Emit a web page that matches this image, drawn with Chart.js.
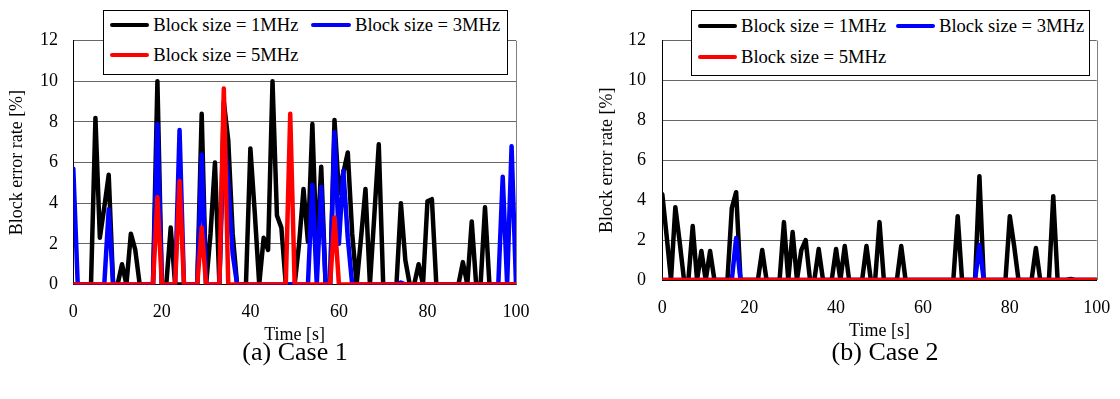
<!DOCTYPE html>
<html><head><meta charset="utf-8">
<script src="https://cdn.jsdelivr.net/npm/chart.js@4.4.1/dist/chart.umd.min.js"></script>
<style>
html,body{margin:0;padding:0;background:#fff;}
#wrap{position:relative;width:1120px;height:399px;overflow:hidden;background:#fff;font-family:'Liberation Serif','Times New Roman',serif;}
.cv{position:absolute;top:0;width:560px;height:399px;}
.legend{position:absolute;background:#fff;border:1px solid #000;box-sizing:border-box;}
.legend .ln{position:absolute;height:4px;border-radius:2px;}
.legend .tx{position:absolute;font-family:'Liberation Serif','Times New Roman',serif;font-size:18.6px;line-height:20px;color:#000;white-space:nowrap;}
.cap{position:absolute;font-family:'Liberation Serif','Times New Roman',serif;font-size:26px;line-height:30px;color:#000;text-align:center;width:300px;}
</style></head><body>
<div id="wrap">
  <div class="cv" style="left:0px"><canvas id="c1" width="560" height="399"></canvas></div>
  <div class="cv" style="left:560px"><canvas id="c2" width="560" height="399"></canvas></div>
  <div id="leg1" class="legend" style="left:102.7px;top:10px;width:405.6px;height:65px"></div>
  <div id="leg2" class="legend" style="left:691.4px;top:10px;width:399px;height:66px"></div>
  <div id="cap1" class="cap" style="left:145px;top:337px"></div>
  <div id="cap2" class="cap" style="left:735px;top:337px"></div>
</div>
<script>
// ---- data ----
const times = [0,1,2,3,4,5,6,7,8,9,10,11,12,13,14,15,16,17,18,19,20,21,22,23,24,25,26,27,28,29,30,31,32,33,34,35,36,37,38,39,40,41,42,43,44,45,46,47,48,49,50,51,52,53,54,55,56,57,58,59,60,61,62,63,64,65,66,67,68,69,70,71,72,73,74,75,76,77,78,79,80,81,82,83,84,85,86,87,88,89,90,91,92,93,94,95,96,97,98,99,100];
const xTickValues = [0,20,40,60,80,100];
const yTickValues = [0,2,4,6,8,10,12];
const seriesNames = ['Block size = 1MHz','Block size = 3MHz','Block size = 5MHz'];
const seriesColors = ['#000000','#0000ff','#ff0000'];
const xTitle = 'Time [s]';
const yTitle = 'Block error rate [%]';
const captions = ['(a) Case 1','(b) Case 2'];

const case1_1MHz = [
 0,0,0,0,0,8.2,2.3,3.8,5.4,0,
 0,1.0,0,2.5,1.7,0,0,0,0,10.0,
 0,0,2.8,0,0,0,0,0,0,8.4,
 0,2.5,6.0,0,9.0,7.1,2.5,0,0,0,
 6.7,3.5,0,2.3,1.7,10.0,3.4,2.8,0,0,
 0,2.0,4.7,2.1,7.9,1.5,5.8,0,0,8.1,
 4.5,5.5,6.5,2.5,0,2.3,4.7,0,3.4,6.9,
 0,0,0,0,4.0,1.2,0,0,1.0,0,
 4.1,4.2,0,0,0,0,0,0,1.1,0,
 3.1,0,0,3.8,0,0,0,0,0,0,
 0];
const case1_3MHz = [
 5.7,0,0,0,0,0,0,0,3.7,0,
 0,0,0,0,0,0,0,0,0,7.9,
 0,0,0,0,7.6,0,0,0,0,6.4,
 0,0,0,0,7.5,5.0,1.5,0,0,0,
 0,0,0,0,0,0,0,0,0,0,
 0,0,0,0,4.9,0,4.8,0,0,7.5,
 2.0,5.6,2.3,0,0,0,0,0,0,0,
 0,0,0,0,0.1,0,0,0,0,0,
 0,0,0,0,0,0,0,0,0,0,
 0,0,0,0,0,0,0,5.3,0,6.8,
 0];
const case1_5MHz = [
 0,0,0,0,0,0,0,0,0,0,
 0,0,0,0,0,0,0,0,0,4.3,
 0,0,0,0,5.1,0,0,0,0,2.8,
 0,0,0,0,9.65,0,0,0,0,0,
 0,0,0,0,0,0,0,0,0,8.4,
 0,0,0,0,0,0,0,0,0,3.3,
 0,0,0,0,0,0,0,0,0,0,
 0,0,0,0,0,0,0,0,0,0,
 0,0,0,0,0,0,0,0,0,0,
 0,0,0,0,0,0,0,0,0,0,
 0];
const case2_1MHz = [
 4.3,2.2,0,3.65,1.9,0,0,2.7,0,1.45,
 0,1.45,0,0,0,0,3.6,4.4,0,0,
 0,0,0,1.5,0,0,0,0,2.9,0,
 2.4,0,1.5,2.0,0,0,1.55,0,0,0,
 1.55,0,1.7,0,0,0,0,1.7,0,0,
 2.9,0,0,0,0,1.7,0,0,0,0,
 0,0,0,0,0,0,0,0,3.2,0,
 0,0,0,5.2,0,0,0,0,0,0,
 3.2,1.7,0,0,0,0,1.6,0,0,0,
 4.2,0,0,0,0.05,0,0,0,0,0,
 0];
const case2_3MHz = [
 0,0,0,0,0,0,0,0,0,0,
 0,0,0,0,0,0,0,2.1,0,0,
 0,0,0,0,0,0,0,0,0,0,
 0,0,0,0,0,0,0,0,0,0,
 0,0,0,0,0,0,0,0,0,0,
 0,0,0,0,0,0,0,0,0,0,
 0,0,0,0,0,0,0,0,0,0,
 0,0,0,1.75,0,0,0,0,0,0,
 0,0,0,0,0,0,0,0,0,0,
 0,0,0,0,0,0,0,0,0,0,
 0];
const case2_5MHz = [
 0,0,0,0,0,0,0,0,0,0,
 0,0,0,0,0,0,0,0,0,0,
 0,0,0,0,0,0,0,0,0,0,
 0,0,0,0,0,0,0,0,0,0,
 0,0,0,0,0,0,0,0,0,0,
 0,0,0,0,0,0,0,0,0,0,
 0,0,0,0,0,0,0,0,0,0,
 0,0,0,0,0,0,0,0,0,0,
 0,0,0,0,0,0,0,0,0,0,
 0,0,0,0,0,0,0,0,0,0,
 0];

// ---- rendering ----
const FONT = "'Liberation Serif','Times New Roman',serif";

const framePlugin = {
  id: 'frame',
  afterDraw(chart) {
    const {ctx, chartArea: a} = chart;
    ctx.save();
    ctx.strokeStyle = '#808080';
    ctx.lineWidth = 1;
    ctx.beginPath();
    ctx.moveTo(Math.round(a.right) + 0.5, a.top);
    ctx.lineTo(Math.round(a.right) + 0.5, a.bottom);
    ctx.stroke();
    ctx.restore();
  }
};

function makeChart(id, series, geo) {
  const datasets = series.map((vals, i) => ({
    label: seriesNames[i],
    data: vals,
    borderColor: seriesColors[i],
    backgroundColor: seriesColors[i],
    borderWidth: 4.5,
    pointRadius: 0,
    tension: 0,
    borderJoinStyle: 'round',
    borderCapStyle: 'round',
    fill: false,
    order: 3 - i
  }));
  return new Chart(document.getElementById(id), {
    type: 'line',
    data: { labels: times, datasets },
    plugins: [framePlugin],
    options: {
      responsive: false,
      animation: false,
      events: [],
      devicePixelRatio: 1,
      layout: { autoPadding: false, padding: { left: geo.pl, top: geo.pt, right: geo.pr, bottom: geo.pb } },
      plugins: { legend: { display: false }, tooltip: { enabled: false }, title: { display: false } },
      scales: {
        x: {
          type: 'linear', min: 0, max: 100,
          afterBuildTicks: s => { s.ticks = xTickValues.map(v => ({ value: v })); },
          afterFit: s => { s.height = geo.xh; s.paddingLeft = 0; s.paddingRight = 0; },
          grid: { display: false, drawTicks: false },
          border: { display: true, color: '#000', width: 1 },
          ticks: { padding: geo.xtp, color: '#000', font: { family: FONT, size: 18 }, maxRotation: 0, autoSkip: false },
          title: { display: true, text: xTitle, color: '#000', font: { family: FONT, size: 18 }, padding: { top: 0, bottom: 0 } }
        },
        y: {
          min: 0, max: 12,
          afterBuildTicks: s => { s.ticks = yTickValues.map(v => ({ value: v })); },
          afterFit: s => { s.width = geo.yw; s.paddingTop = 0; s.paddingBottom = 0; },
          grid: { display: true, drawTicks: false, color: '#666666', lineWidth: 1 },
          border: { display: true, color: '#000', width: 1 },
          ticks: { padding: geo.ytp, color: '#000', font: { family: FONT, size: 18 } },
          title: { display: true, text: yTitle, color: '#000', font: { family: FONT, size: 18 }, padding: { top: geo.ttp, bottom: 0 } }
        }
      }
    }
  });
}

makeChart('c1', [case1_1MHz, case1_3MHz, case1_5MHz],
  { pl: 0, pt: 40.7, pr: 44, pb: 52.5, yw: 73.3, xh: 62, xtp: 17, ytp: 15.3, ttp: 6.2 });
makeChart('c2', [case2_1MHz, case2_3MHz, case2_5MHz],
  { pl: 29, pt: 40.5, pr: 23.3, pb: 57, yw: 73.3, xh: 62, xtp: 17, ytp: 16.3, ttp: 7.2 });

// ---- HTML legends ----
function buildLegend(id, items) {
  const box = document.getElementById(id);
  items.forEach(it => {
    const ln = document.createElement('div');
    ln.className = 'ln';
    ln.style.left = it.lx + 'px';
    ln.style.top = (it.cy - 2) + 'px';
    ln.style.width = it.lw + 'px';
    ln.style.background = seriesColors[it.s];
    box.appendChild(ln);
    const tx = document.createElement('div');
    tx.className = 'tx';
    tx.style.left = it.tx + 'px';
    tx.style.top = (it.cy - 10) + 'px';
    tx.textContent = seriesNames[it.s];
    box.appendChild(tx);
  });
}
buildLegend('leg1', [
  { s: 0, lx: 6.5, lw: 39, cy: 14, tx: 49.6 },
  { s: 1, lx: 207, lw: 40, cy: 14, tx: 251.3 },
  { s: 2, lx: 6.5, lw: 39, cy: 44, tx: 49.6 }
]);
buildLegend('leg2', [
  { s: 0, lx: 5.6, lw: 39, cy: 15, tx: 48.6 },
  { s: 1, lx: 204, lw: 39, cy: 15, tx: 246.6 },
  { s: 2, lx: 5.6, lw: 39, cy: 46, tx: 48.6 }
]);
document.getElementById('cap1').textContent = captions[0];
document.getElementById('cap2').textContent = captions[1];
</script>
</body></html>
